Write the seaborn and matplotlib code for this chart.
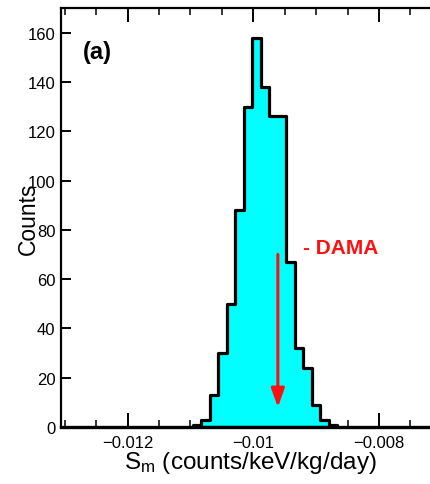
import numpy as np
import pandas as pd
import matplotlib
matplotlib.use("Agg")
import matplotlib.pyplot as plt
import seaborn as sns
from matplotlib.ticker import MultipleLocator

# ---- data ----
bin_edges = [-0.010961, -0.010826, -0.010691, -0.010557, -0.010422, -0.010287,
             -0.010152, -0.010017, -0.009883, -0.009748, -0.009613, -0.009478,
             -0.009343, -0.009209, -0.009074, -0.008939, -0.008804, -0.008670]
counts = [1, 3, 13, 30, 50, 88, 130, 158, 138, 126, 126, 67, 32, 24, 9, 3, 1]
dama_value = -0.00961
dama_arrow_top = 70
dama_arrow_tip = 8
xtick_values = [-0.012, -0.010, -0.008]
xtick_labels = ["\u22120.012", "\u22120.01", "\u22120.008"]
ytick_values = [0, 20, 40, 60, 80, 100, 120, 140, 160]

centers = [(a + b) / 2 for a, b in zip(bin_edges[:-1], bin_edges[1:])]
df = pd.DataFrame({"Sm": centers, "counts": counts})

sns.set_theme(style="ticks")
plt.rcParams["font.family"] = ["Liberation Sans", "DejaVu Sans"]
plt.rcParams["mathtext.fontset"] = "custom"
plt.rcParams["mathtext.rm"] = "Liberation Sans"
plt.rcParams["mathtext.it"] = "Liberation Sans"

fig = plt.figure(figsize=(4.31, 4.85), dpi=100)
W, H = 431, 485
left, right, top, bottom = 61, 432.5, 9, 428
ax = fig.add_axes([left / W, 1 - bottom / H, (right - left) / W, (bottom - top) / H])

sns.histplot(data=df, x="Sm", weights="counts", bins=bin_edges, element="step",
             fill=True, color="#00ffff", edgecolor="black", linewidth=2.3,
             alpha=1, ax=ax)

ax.set_xlim(-0.01306, -0.00715)
ax.set_ylim(0, 170)

ax.set_xticks(xtick_values)
ax.set_xticklabels(xtick_labels)
ax.xaxis.set_minor_locator(MultipleLocator(0.0005))
ax.set_yticks(ytick_values)

ax.tick_params(axis="x", which="major", direction="in", length=10, width=1.4,
               top=True, labelsize=12, pad=6, color="black", labelcolor="black")
ax.tick_params(axis="x", which="minor", direction="in", length=5, width=1.3,
               top=True, bottom=True)
ax.tick_params(axis="y", which="major", direction="in", length=7, width=1.4,
               right=False, labelsize=12, pad=4, color="black", labelcolor="black")

for s in ["left", "top"]:
    ax.spines[s].set_linewidth(1.6)
    ax.spines[s].set_color("black")
ax.spines["right"].set_visible(False)
ax.spines["bottom"].set_linewidth(2.4)
ax.spines["bottom"].set_color("black")

ax.set_xlabel("S$_{\\mathrm{m}}$ (counts/keV/kg/day)", fontsize=17.5, color="black")
ax.xaxis.set_label_coords(0.51, -0.052)
ax.set_ylabel("Counts", fontsize=16.5, color="black")
ax.yaxis.set_label_coords(-0.058, 0.5)

ax.text(0.059, 0.896, "(a)", transform=ax.transAxes, fontsize=17,
        fontweight="bold", ha="left", va="center", color="black")

ax.annotate("", xy=(dama_value, dama_arrow_tip), xytext=(dama_value, dama_arrow_top),
            arrowprops=dict(arrowstyle="-|>,head_length=0.45,head_width=0.16",
                            mutation_scale=25, color="#ff1010", lw=2.2,
                            shrinkA=0, shrinkB=0))
ax.text(-0.009216, 73, "- DAMA", fontsize=15, fontweight="bold",
        color="#ff1010", ha="left", va="center")

fig.savefig("out.png", dpi=100)
